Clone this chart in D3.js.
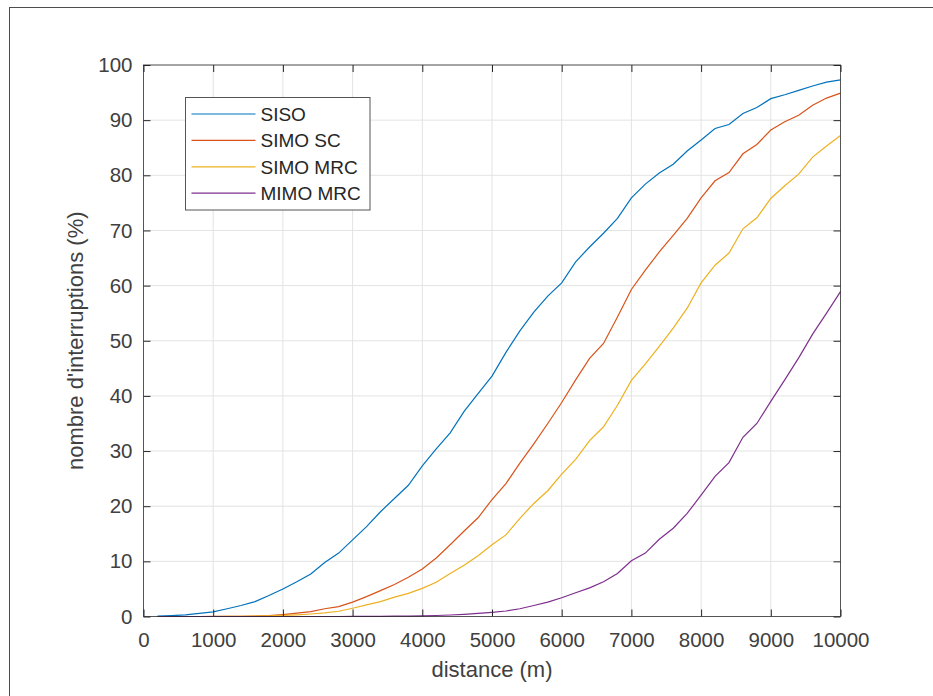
<!DOCTYPE html>
<html>
<head>
<meta charset="utf-8">
<script src="https://cdn.jsdelivr.net/npm/d3@7"></script>
<style>
  body { margin: 0; background: #fff; }
  svg { display: block; font-family: "Liberation Sans", Arial, sans-serif; }
</style>
</head>
<body>
<div id="chart"></div>
<script>
// distance (m)
const distances = [200, 400, 600, 800, 1000, 1200, 1400, 1600, 1800, 2000,
  2200, 2400, 2600, 2800, 3000, 3200, 3400, 3600, 3800, 4000,
  4200, 4400, 4600, 4800, 5000, 5200, 5400, 5600, 5800, 6000,
  6200, 6400, 6600, 6800, 7000, 7200, 7400, 7600, 7800, 8000,
  8200, 8400, 8600, 8800, 9000, 9200, 9400, 9600, 9800, 10000];

// nombre d'interruptions (%)
const siso = [0.05, 0.15, 0.3, 0.55, 0.85, 1.4, 2.0, 2.7, 3.8, 5.0,
  6.3, 7.7, 9.8, 11.5, 13.9, 16.3, 19.0, 21.4, 23.8, 27.3,
  30.4, 33.3, 37.2, 40.4, 43.6, 47.9, 51.8, 55.2, 58.1, 60.5,
  64.3, 67.0, 69.5, 72.2, 75.9, 78.4, 80.4, 82.0, 84.4, 86.4,
  88.5, 89.2, 91.2, 92.3, 93.9, 94.6, 95.4, 96.2, 96.9, 97.3];
const simoSC = [0, 0, 0, 0, 0.01, 0.02, 0.04, 0.08, 0.15, 0.35,
  0.6, 0.9, 1.4, 1.8, 2.6, 3.6, 4.7, 5.8, 7.1, 8.6,
  10.6, 13.0, 15.5, 17.9, 21.2, 24.1, 27.8, 31.3, 35.0, 38.8,
  42.9, 46.8, 49.5, 54.3, 59.3, 62.8, 66.1, 69.1, 72.2, 75.9,
  79.0, 80.5, 83.9, 85.6, 88.2, 89.7, 90.9, 92.7, 94.0, 94.9];
const simoMRC = [0, 0, 0, 0, 0, 0.01, 0.02, 0.05, 0.1, 0.2,
  0.3, 0.45, 0.65, 0.95, 1.5, 2.1, 2.7, 3.5, 4.2, 5.1,
  6.2, 7.8, 9.3, 11.0, 13.0, 14.8, 17.8, 20.5, 22.8, 25.8,
  28.5, 31.9, 34.4, 38.3, 42.8, 45.8, 49.0, 52.3, 55.9, 60.5,
  63.7, 65.9, 70.3, 72.3, 75.8, 78.1, 80.2, 83.3, 85.3, 87.2];
const mimoMRC = [0, 0, 0, 0, 0, 0, 0, 0, 0, 0,
  0, 0, 0, 0, 0.01, 0.02, 0.03, 0.05, 0.08, 0.12,
  0.18, 0.27, 0.4, 0.55, 0.75, 1.0, 1.4, 2.0, 2.6, 3.4,
  4.3, 5.2, 6.3, 7.8, 10.1, 11.5, 14.0, 16.0, 18.7, 22.0,
  25.4, 27.9, 32.5, 35.0, 39.0, 42.9, 46.9, 51.2, 55.0, 58.9];

const seriesNames = ["SISO", "SIMO SC", "SIMO MRC", "MIMO MRC"];
const seriesColors = ["#0072BD", "#D95319", "#EDB120", "#7E2F8E"];
const seriesValues = [siso, simoSC, simoMRC, mimoMRC];

const xTicks = [0, 1000, 2000, 3000, 4000, 5000, 6000, 7000, 8000, 9000, 10000];
const yTicks = [0, 10, 20, 30, 40, 50, 60, 70, 80, 90, 100];

const W = 933, H = 696;
const margin = { top: 65, right: 92.5, bottom: 79.5, left: 143.5 };
const width = W - margin.left - margin.right;
const height = H - margin.top - margin.bottom;
const axisColor = "#262626";
const textColor = "#404040";

const svg = d3.select("#chart").append("svg")
  .attr("width", W)
  .attr("height", H);

// figure frame (runs off the right/bottom edge)
svg.append("rect")
  .attr("x", 9.5).attr("y", 7.5)
  .attr("width", 1000).attr("height", 1000)
  .attr("fill", "none")
  .attr("stroke", "#4d4d4d")
  .attr("stroke-width", 1);

const g = svg.append("g").attr("transform", `translate(${margin.left},${margin.top})`);

const x = d3.scaleLinear().domain([0, 10000]).range([0, width]);
const y = d3.scaleLinear().domain([0, 100]).range([height, 0]);

// grid
g.append("g").selectAll("line").data(xTicks).join("line")
  .attr("x1", d => x(d)).attr("x2", d => x(d))
  .attr("y1", 0).attr("y2", height)
  .attr("stroke", "#e3e3e3").attr("stroke-width", 1);
g.append("g").selectAll("line").data(yTicks).join("line")
  .attr("y1", d => y(d)).attr("y2", d => y(d))
  .attr("x1", 0).attr("x2", width)
  .attr("stroke", "#e3e3e3").attr("stroke-width", 1);

// curves
const line = d3.line()
  .x((d, i) => x(distances[i]))
  .y(d => y(d));

g.append("g").selectAll("path").data(seriesValues).join("path")
  .attr("d", d => line(d))
  .attr("fill", "none")
  .attr("stroke", (d, i) => seriesColors[i])
  .attr("stroke-width", 1.2);

// axes
function styleAxis(sel, showText) {
  sel.select(".domain").remove();
  sel.selectAll(".tick line").attr("stroke", axisColor).attr("stroke-width", 1);
  sel.selectAll(".tick text")
    .attr("fill", textColor)
    .attr("font-size", "20.5px")
    .style("display", showText ? null : "none");
}

const fmt = d3.format("d");
g.append("g").attr("transform", `translate(0,${height})`)
  .call(d3.axisBottom(x).tickValues(xTicks).tickFormat(fmt).tickSizeInner(-7).tickPadding(16))
  .call(s => styleAxis(s, true));
g.append("g")
  .call(d3.axisTop(x).tickValues(xTicks).tickSizeInner(-7))
  .call(s => styleAxis(s, false));
g.append("g")
  .call(d3.axisLeft(y).tickValues(yTicks).tickFormat(fmt).tickSizeInner(-7).tickPadding(11))
  .call(s => styleAxis(s, true));
g.append("g").attr("transform", `translate(${width},0)`)
  .call(d3.axisRight(y).tickValues(yTicks).tickSizeInner(-7))
  .call(s => styleAxis(s, false));

// axes box
g.append("rect")
  .attr("x", 0).attr("y", 0)
  .attr("width", width).attr("height", height)
  .attr("fill", "none")
  .attr("stroke", axisColor)
  .attr("stroke-opacity", 0.75)
  .attr("stroke-width", 1);

// axis labels
svg.append("text")
  .attr("x", margin.left + width / 2)
  .attr("y", 677)
  .attr("text-anchor", "middle")
  .attr("font-size", "22px")
  .attr("fill", textColor)
  .text("distance (m)");

svg.append("text")
  .attr("transform", `translate(83,${margin.top + height / 2}) rotate(-90)`)
  .attr("text-anchor", "middle")
  .attr("font-size", "22px")
  .attr("fill", textColor)
  .text("nombre d'interruptions (%)");

// legend
const legend = svg.append("g").attr("transform", "translate(185.5,97.5)");
legend.append("rect")
  .attr("width", 184.5).attr("height", 112.5)
  .attr("fill", "#fff")
  .attr("stroke", "#555")
  .attr("stroke-width", 1);

const rows = legend.selectAll("g").data(seriesNames).join("g")
  .attr("transform", (d, i) => `translate(0,${16.5 + i * 26.4})`);
rows.append("line")
  .attr("x1", 6).attr("x2", 70)
  .attr("stroke", (d, i) => seriesColors[i])
  .attr("stroke-width", 1.2);
rows.append("text")
  .attr("x", 75)
  .attr("dy", "0.36em")
  .attr("font-size", "19px")
  .attr("fill", "#262626")
  .text(d => d);
</script>
</body>
</html>
